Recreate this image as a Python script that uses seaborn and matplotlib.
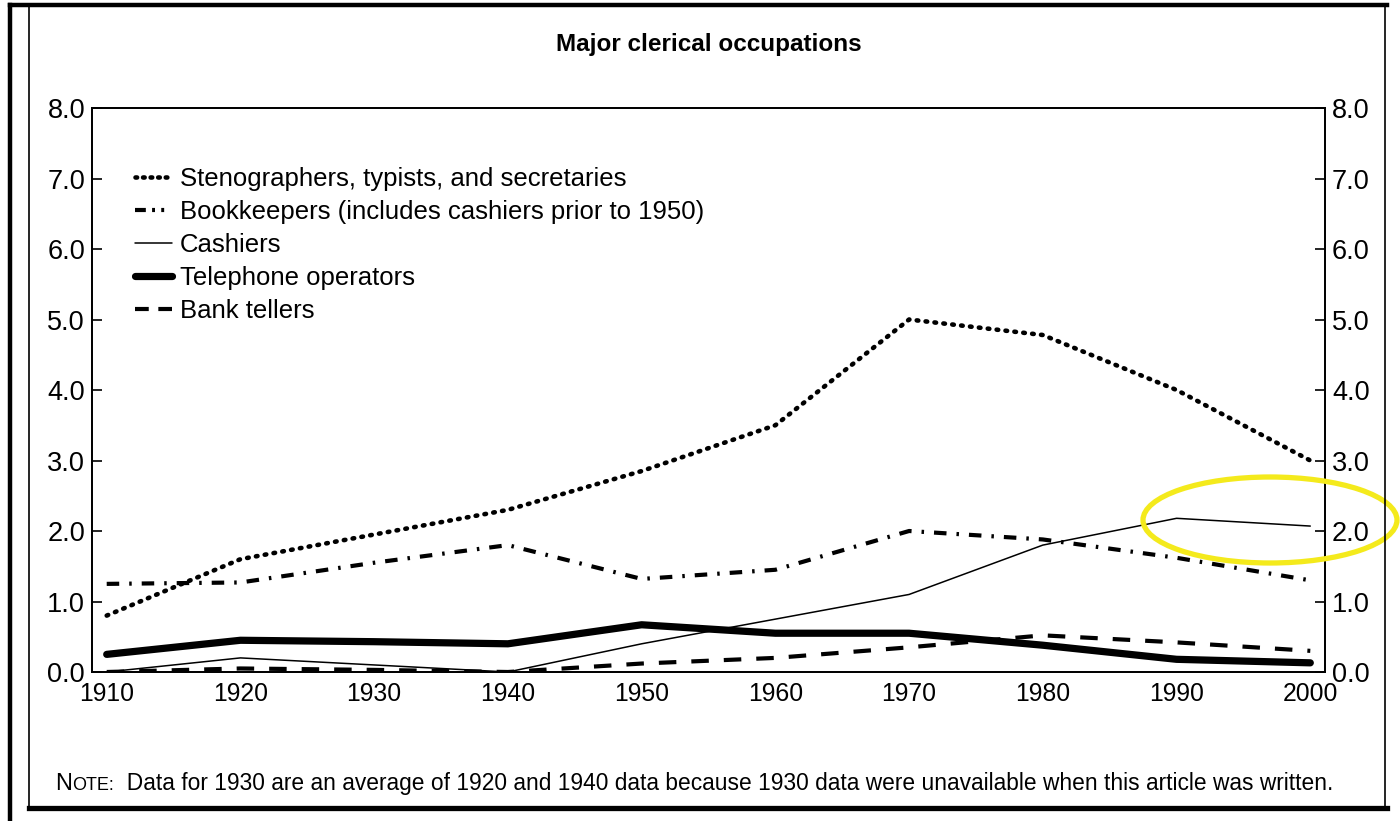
import numpy as np
import pandas as pd
import matplotlib
matplotlib.use("Agg")
import matplotlib.pyplot as plt
import seaborn as sns
from matplotlib.patches import Ellipse
from matplotlib.lines import Line2D

sns.set_theme(style="white")
plt.rcParams['font.family'] = ['Liberation Sans', 'DejaVu Sans']
plt.rcParams['text.color'] = 'black'

# ── data (percent of employment) ──
years = [1910, 1920, 1930, 1940, 1950, 1960, 1970, 1980, 1990, 2000]
stenographers = [0.80, 1.60, 1.95, 2.30, 2.85, 3.50, 5.00, 4.78, 4.00, 3.00]
bookkeepers   = [1.25, 1.27, 1.55, 1.80, 1.32, 1.45, 2.00, 1.88, 1.62, 1.30]
cashiers      = [0.00, 0.20, 0.10, 0.00, 0.40, 0.75, 1.10, 1.80, 2.18, 2.07]
telephone     = [0.25, 0.45, 0.43, 0.40, 0.67, 0.55, 0.55, 0.38, 0.18, 0.13]
bank_tellers  = [0.00, 0.05, 0.03, 0.00, 0.12, 0.20, 0.35, 0.52, 0.42, 0.30]

labels = [
    "Stenographers, typists, and secretaries",
    "Bookkeepers (includes cashiers prior to 1950)",
    "Cashiers",
    "Telephone operators",
    "Bank tellers",
]
series = [stenographers, bookkeepers, cashiers, telephone, bank_tellers]

# line look for each series (plot) and a compact version for the legend keys
styles = [
    dict(lw=3.3, linestyle=(0, (0.35, 1.6)), dash_capstyle="round"),
    dict(lw=3.0, linestyle=(0, (3.0, 2.4, 0.6, 2.4))),
    dict(lw=1.1, linestyle="-"),
    dict(lw=5.2, linestyle="-", solid_capstyle="round"),
    dict(lw=3.0, linestyle=(0, (4.2, 3.6))),
]
key_styles = [
    dict(lw=3.3, linestyle=(0, (0.35, 1.3)), dash_capstyle="round"),
    dict(lw=3.0, linestyle=(0, (2.6, 1.5, 0.7, 1.5, 0.7, 4.0))),
    dict(lw=1.1, linestyle="-"),
    dict(lw=5.2, linestyle="-"),
    dict(lw=3.0, linestyle=(0, (3.3, 2.3))),
]

df = pd.DataFrame({"year": years})
for lab, vals in zip(labels, series):
    df[lab] = vals

fig = plt.figure(figsize=(14, 8.21), dpi=100)
ax = fig.add_axes([92 / 1400, 149 / 821, 1233 / 1400, 564 / 821])

for lab, st in zip(labels, styles):
    sns.lineplot(data=df, x="year", y=lab, ax=ax, color="black", **st)

yt = np.arange(0, 8.1, 1)
ax.set_xlim(1908.9, 2001.1)
ax.set_ylim(0, 8)
ax.set_xticks(years)
ax.set_yticks(yt)
ax.set_yticklabels([f"{v:.1f}" for v in yt])
ax.set_xlabel("")
ax.set_ylabel("")
ax.tick_params(direction="in", length=7, width=1.2, colors="black", pad=5)
ax.tick_params(axis="x", labelsize=17.8, pad=7)
ax.tick_params(axis="y", labelsize=19.5)
for sp in ax.spines.values():
    sp.set_color("black")
    sp.set_linewidth(1.3)

ax2 = ax.twinx()
ax2.set_ylim(0, 8)
ax2.set_yticks(yt)
ax2.set_yticklabels([f"{v:.1f}" for v in yt])
ax2.tick_params(direction="in", length=7, width=1.2, colors="black",
                labelsize=19.5, pad=5)
for sp in ax2.spines.values():
    sp.set_color("black")
    sp.set_linewidth(1.3)

handles = [Line2D([], [], color="black", **ks) for ks in key_styles]
ax.legend(handles, labels, loc="upper left", bbox_to_anchor=(0.035, 0.895),
          frameon=False, fontsize=18.5, handlelength=1.45, handletextpad=0.3,
          labelspacing=0.35, borderaxespad=0, borderpad=0)

# title
fig.text(709 / 1400, 1 - 45 / 821, "Major clerical occupations", ha="center",
         va="center", fontsize=17.5, fontweight="bold")

# note with small-caps "Note"
fig.canvas.draw()
r = fig.canvas.get_renderer()
ny = 1 - 790 / 821
t1 = fig.text(55 / 1400, ny, "N", fontsize=17, va="baseline")
bb = t1.get_window_extent(r)
t2 = fig.text(bb.x1 / 1400, ny, "OTE:", fontsize=13, va="baseline")
bb = t2.get_window_extent(r)
fig.text(bb.x1 / 1400, ny,
         "  Data for 1930 are an average of 1920 and 1940 data because 1930 data were unavailable when this article was written.",
         fontsize=16.4, va="baseline")

# yellow highlight ellipse
fig.add_artist(Ellipse((1270 / 1400, 1 - 520 / 821), 254 / 1400, 86 / 821,
                       transform=fig.transFigure, fill=False,
                       edgecolor="#F4EA1C", lw=3.8))

# page frame
def fline(xs, ys, lw):
    fig.add_artist(Line2D([x / 1400 for x in xs], [1 - y / 821 for y in ys],
                          transform=fig.transFigure, color="black", lw=lw,
                          solid_capstyle="projecting"))

fline([10, 10], [5, 821], 3.2)
fline([10, 1387], [5, 5], 3.2)
fline([29, 29], [5, 808], 1.2)
fline([1385, 1385], [5, 808], 1.2)
fline([29, 1387], [808, 808], 3.8)

fig.savefig("out.png", dpi=100)
